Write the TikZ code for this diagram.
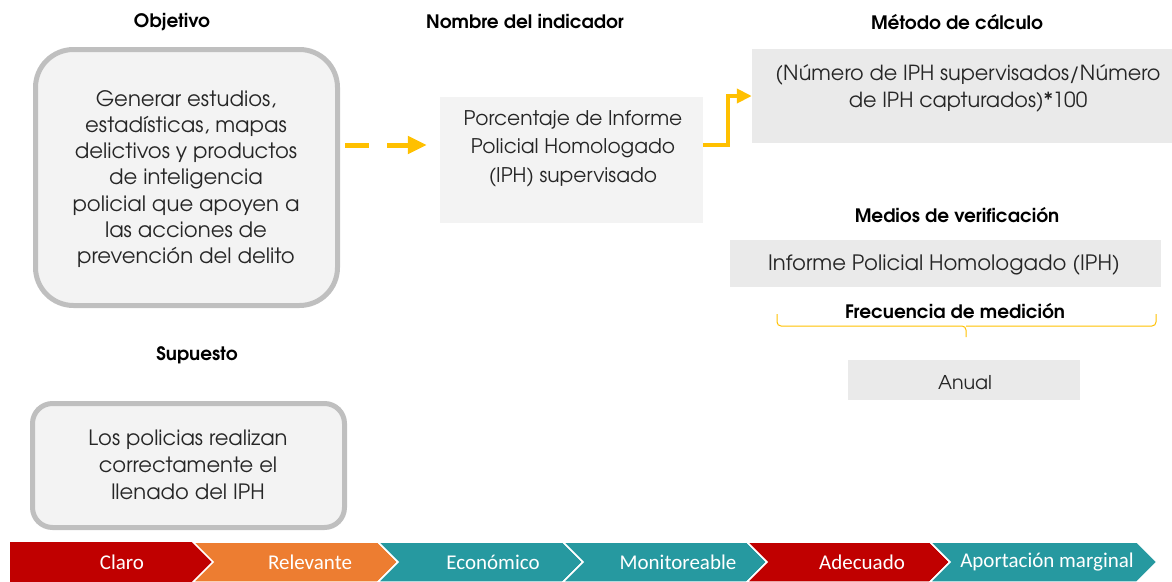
\documentclass[tikz,border=0pt]{standalone}
\usepackage{fontspec}
\setmainfont{TeX Gyre Adventor}
\newfontfamily\chevfont{Carlito}
\usetikzlibrary{arrows.meta}
\definecolor{boxgray}{HTML}{BFBFBF}
\definecolor{fillA}{HTML}{F3F3F3}
\definecolor{fillB}{HTML}{EAEAEA}
\definecolor{amber}{HTML}{FFC000}
\definecolor{cred}{HTML}{C00000}
\definecolor{corange}{HTML}{ED7D31}
\definecolor{cteal}{HTML}{2699A0}
\tikzset{
  title/.style={font=\bfseries\fontsize{18.5}{22}\selectfont, text=black, inner sep=0pt},
  body/.style={font=\fontsize{21.2}{26.3}\selectfont, text=black!85, align=center, inner sep=0pt},
  roundbox/.style={draw=boxgray, line width=5pt, fill=fillA, inner sep=0pt},
  flatbox/.style={fill=fillB, draw=none, inner sep=0pt},
  chev/.style={draw=white, line width=1.5pt},
  chevtext/.style={font=\chevfont\fontsize{21}{24}\selectfont, text=white, inner sep=0pt},
  arrowline/.style={amber, line width=5pt, -{Triangle[length=19pt,width=17pt]}},
}
\begin{document}
\begin{tikzpicture}[x=1pt,y=-1pt]
\useasboundingbox (0,0) rectangle (1172,581);
% titles
\node[title] (tObj) at (172,22) {Objetivo};
\node[title] (tNom) at (525,22) {Nombre del indicador};
\node[title] (tMet) at (957,22) {Método de cálculo};
\node[title] (tMed) at (957,215) {Medios de verificación};
\node[title] (tFre) at (955,311) {Frecuencia de medición};
\node[title] (tSup) at (197,355) {Supuesto};
% objetivo box
\draw[roundbox, rounded corners=38pt] (35.5,49.5) rectangle (337.5,305.5);
\node (obj) at (186.5,177.5) [minimum width=307pt, minimum height=261pt] {};
\node[body] (objtxt) at (186,179) {Generar estudios,\\estadísticas, mapas\\delictivos y productos\\de inteligencia\\policial que apoyen a\\las acciones de\\prevención del delito};
% porcentaje box
\node[flatbox, fill=fillA, minimum width=263pt, minimum height=126pt] (pct) at (571.5,160) {};
\node[body, font=\fontsize{20.2}{28.5}\selectfont] (pcttxt) at (573,148.5) {Porcentaje de Informe\\Policial Homologado\\(IPH) supervisado};
% metodo box
\node[flatbox, minimum width=420pt, minimum height=94pt] (met) at (962,96) {};
\node[body, font=\fontsize{20.8}{27}\selectfont] (mettxt) at (968,88.5) {(Número de IPH supervisados/Número\\de IPH capturados)*100};
% informe box
\node[flatbox, minimum width=431pt, minimum height=47pt] (inf) at (945.5,263.5) {};
\node[body] (inftxt) at (944,265) {Informe Policial Homologado (IPH)};
% brace
\coordinate (brL) at (777,314);
\coordinate (brR) at (1156,314);
\coordinate (brM) at (966,337);
\draw[amber, line width=1pt, rounded corners=4pt] (brL) -- (brL |- 0,326) -- (brM |- 0,326) -- (brM);
\draw[amber, line width=1pt, rounded corners=4pt] (brR) -- (brR |- 0,326) -- (brM |- 0,326);
% anual box
\node[flatbox, minimum width=232pt, minimum height=40pt] (anu) at (964,380) {};
\node[body, font=\fontsize{19}{24}\selectfont] (anutxt) at (965,383) {Anual};
% supuesto box
\draw[roundbox, rounded corners=20pt] (32.5,403.5) rectangle (344.5,527.5);
\node (sup) at (188.5,465.5) [minimum width=317pt, minimum height=129pt] {};
\node[body, font=\fontsize{21.1}{27}\selectfont] (suptxt) at (188,465) {Los policias realizan\\correctamente el\\llenado del IPH};
% connectors
\coordinate (ay) at (0,145);
\draw[arrowline, dash pattern=on 24pt off 18pt] ([xshift=5pt]obj.east |- ay) -- ([xshift=-13pt]pct.west |- ay);
\draw[amber, line width=4pt, -{Triangle[length=15pt,width=14pt]}] (pct.east |- ay) -- ++(25,0) |- (met.west);
% chevrons
\fill[cred] (10,542) -- (193,542) -- (213,562) -- (193,582) -- (10,582) -- cycle;
\filldraw[corange, chev] (193,542) -- (378,542) -- (398,562) -- (378,582) -- (193,582) -- (213,562) -- cycle;
\filldraw[cteal, chev] (378,542) -- (563,542) -- (583,562) -- (563,582) -- (378,582) -- (398,562) -- cycle;
\filldraw[cteal, chev] (563,542) -- (747,542) -- (767,562) -- (747,582) -- (563,582) -- (583,562) -- cycle;
\filldraw[cred, chev] (747,542) -- (930,542) -- (950,562) -- (930,582) -- (747,582) -- (767,562) -- cycle;
\filldraw[cteal, chev] (930,542) -- (1137,542) -- (1157,562) -- (1137,582) -- (930,582) -- (950,562) -- cycle;
\node[chevtext] (c1) at (122,562) {Claro};
\node[chevtext] (c2) at (310,562) {Relevante};
\node[chevtext] (c3) at (493,562) {Económico};
\node[chevtext] (c4) at (678,562) {Monitoreable};
\node[chevtext] (c5) at (862,562) {Adecuado};
\node[chevtext] (c6) at (1047,562) {Aportación marginal};
\end{tikzpicture}
\end{document}
